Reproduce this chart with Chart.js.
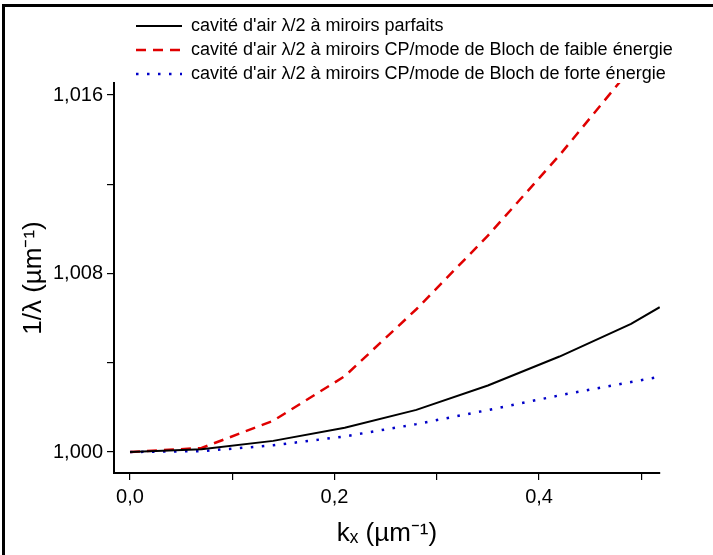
<!DOCTYPE html>
<html>
<head>
<meta charset="utf-8">
<script src="https://cdn.jsdelivr.net/npm/chart.js@4"></script>
<style>
  body { margin: 0; background: #fff; }
  #cadre { position: absolute; left: 2px; top: 4px; width: 760px; height: 600px; border-left: 3px solid #000; border-top: 3px solid #000; }
  #myChart { position: absolute; left: 0; top: 0; }
</style>
</head>
<body>
<div id="cadre"></div>
<canvas id="myChart" width="713" height="555"></canvas>
<script>
const kx = [0, 0.07, 0.14, 0.21, 0.28, 0.35, 0.42, 0.49, 0.518];
const parfaits = [1.0000, 1.00012, 1.0005, 1.00109, 1.00189, 1.00298, 1.00428, 1.00574, 1.00649];
const faibleEnergie = [1.0000, 1.00018, 1.0014, 1.0034, 1.0064, 1.0097, 1.0133, 1.0172, 1.0188];
const forteEnergie = [1.0000, 1.00004, 1.0003, 1.0007, 1.00125, 1.00188, 1.00254, 1.00314, 1.00337];

const labels = [
  "cavité d'air λ/2 à miroirs parfaits",
  "cavité d'air λ/2 à miroirs CP/mode de Bloch de faible énergie",
  "cavité d'air λ/2 à miroirs CP/mode de Bloch de forte énergie"
];

const xTicks = [0, 0.1, 0.2, 0.3, 0.4, 0.5];
const xTickLabels = ["0,0", "", "0,2", "", "0,4", ""];
const yTicks = [1.000, 1.004, 1.008, 1.012, 1.016];
const yTickLabels = ["1,000", "", "1,008", "", "1,016"];

const police = "'Liberation Sans', Arial, sans-serif";

function points(values) {
  return kx.map((x, i) => ({ x: x, y: values[i] }));
}

// legend sits above the plot, shifted right like the original
const legendShift = {
  id: "legendShift",
  afterLayout(chart) {
    chart.legend.left = 130;
    chart.legend.right = 713;
    chart.legend.width = 583;
    chart.legend.top = 11;
  }
};

const ctx = document.getElementById("myChart").getContext("2d");

new Chart(ctx, {
  type: "line",
  data: {
    datasets: [
      {
        label: labels[0],
        data: points(parfaits),
        borderColor: "#000000",
        borderWidth: 2,
        pointRadius: 0,
        tension: 0
      },
      {
        label: labels[1],
        data: points(faibleEnergie),
        borderColor: "#e00000",
        borderWidth: 2.5,
        borderDash: [10, 7],
        pointRadius: 0,
        tension: 0
      },
      {
        label: labels[2],
        data: points(forteEnergie),
        borderColor: "#0000c8",
        borderWidth: 2.5,
        borderDash: [2.5, 8.5],
        pointRadius: 0,
        tension: 0
      }
    ]
  },
  options: {
    responsive: false,
    animation: false,
    devicePixelRatio: 1,
    layout: { padding: { top: 1, right: 53, bottom: 0, left: 0 } },
    plugins: {
      tooltip: { enabled: false },
      legend: {
        position: "top",
        align: "start",
        fullSize: false,
        labels: {
          usePointStyle: true,
          pointStyle: "line",
          pointStyleWidth: 46,
          padding: 6,
          color: "#000",
          font: { family: police, size: 18 },
          generateLabels: (chart) => {
            const items = Chart.defaults.plugins.legend.labels.generateLabels(chart);
            items.forEach((item) => {
              const ds = chart.data.datasets[item.datasetIndex];
              item.lineDash = ds.borderDash || [];
              item.lineWidth = ds.borderWidth;
              item.strokeStyle = ds.borderColor;
            });
            return items;
          }
        }
      }
    },
    scales: {
      x: {
        type: "linear",
        min: -0.01565,
        max: 0.5183,
        afterFit: (scale) => { scale.height = 82; },
        afterBuildTicks: (scale) => { scale.ticks = xTicks.map((v) => ({ value: v })); },
        border: { display: true, color: "#000", width: 2 },
        grid: { drawOnChartArea: false, drawTicks: true, tickLength: 7, color: "#000", lineWidth: 1.2 },
        ticks: {
          autoSkip: false,
          maxRotation: 0,
          padding: 5,
          color: "#000",
          font: { family: police, size: 20 },
          callback: (v, i) => xTickLabels[i]
        },
        title: {
          display: true,
          text: "kₓ (µm⁻¹)",
          color: "#000",
          font: { family: police, size: 26 },
          padding: { top: 0, bottom: 6 }
        }
      },
      y: {
        type: "linear",
        min: 0.99906,
        max: 1.01654,
        afterFit: (scale) => { scale.width = 114; },
        afterBuildTicks: (scale) => { scale.ticks = yTicks.map((v) => ({ value: v })); },
        border: { display: true, color: "#000", width: 2 },
        grid: { drawOnChartArea: false, drawTicks: true, tickLength: 7, color: "#000", lineWidth: 1.2 },
        ticks: {
          autoSkip: false,
          padding: 4,
          color: "#000",
          font: { family: police, size: 20 },
          callback: (v, i) => yTickLabels[i]
        },
        title: {
          display: true,
          text: "1/λ (µm⁻¹)",
          color: "#000",
          font: { family: police, size: 26 },
          padding: { top: 18, bottom: 0 }
        }
      }
    }
  },
  plugins: [legendShift]
});
</script>
</body>
</html>
